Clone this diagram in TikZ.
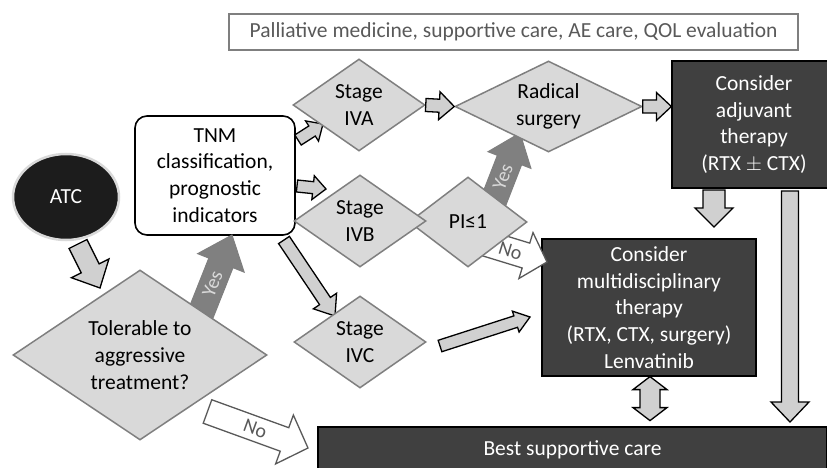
\documentclass[tikz,border=0pt]{standalone}
\usepackage{fontspec}
\setmainfont{Carlito}
\usetikzlibrary{shapes.geometric,calc}

\definecolor{diafill}{HTML}{D9D9D9}
\definecolor{diaedge}{HTML}{7F7F7F}
\definecolor{boxgrey}{HTML}{404040}
\definecolor{atcblack}{HTML}{1C1C1C}
\definecolor{arrowfill}{HTML}{D0D0D0}
\definecolor{yesfill}{HTML}{808080}
\definecolor{greytext}{HTML}{595959}

\tikzset{
  txt/.style = {font = \fontsize{21.5}{26.7}\selectfont, align = center},
  decision/.style = {txt, diamond, draw = diaedge, fill = diafill,
    line width = 1.5pt, inner sep = 0pt},
  darkbox/.style = {txt, rectangle, draw = black, fill = boxgrey,
    text = white, line width = 1.2pt},
  light/.style = {draw = black, fill = arrowfill, line width = 1.3pt,
    line join = miter},
  yes/.style = {draw = diaedge, fill = yesfill, line width = 1pt,
    text = diafill},
  no/.style = {draw = greytext, fill = white, line width = 1.3pt,
    text = greytext},
  arrowtxt/.style = {font = \fontsize{20}{20}\selectfont, transform shape,
    inner sep = 0pt}
}

% block arrow: [style]{tail}{tip}{half shaft}{half head}{head length}{label}
\newcommand{\blockarrow}[7][light]{%
  \draw[#1] let \p1 = (#2), \p2 = (#3),
    \n1 = {atan2(\y2 - \y1, \x2 - \x1)},
    \n2 = {veclen(\x2 - \x1, \y2 - \y1)} in
    [shift = {(\p1)}, rotate = \n1]
    (0, -#4) -- (\n2 - #6, -#4) -- (\n2 - #6, -#5) -- (\n2, 0) --
    (\n2 - #6, #5) -- (\n2 - #6, #4) -- (0, #4) -- cycle
    ({(\n2 - #6) * 0.62}, 0) node[arrowtxt] {#7};}

\begin{document}
\begin{tikzpicture}[x = 1pt, y = -1pt]
  \useasboundingbox (0, 0) rectangle (827, 468);

  \node[txt, draw = diaedge, line width = 1.8pt, text = greytext,
  minimum width = 569, minimum height = 36] (palliative) at (513.5, 32)
  {Palliative medicine, supportive care, AE care, QOL evaluation};

  \node[txt, ellipse, draw = black!15, line width = 2.5pt, fill = atcblack,
  text = white, minimum width = 106, minimum height = 86] (atc) at (66, 197)
  {ATC};

  \node[txt, draw, line width = 1.6pt, rounded corners = 12pt, fill = white,
  minimum width = 160, minimum height = 119] (tnm) at (215, 175.5)
  {TNM\\classification,\\prognostic\\indicators};

  \node[darkbox, minimum width = 164, minimum height = 127] (adjuvant)
  at (754, 124.5) {Consider\\adjuvant\\therapy\\(RTX $\pm$ CTX)};
  \node[darkbox, minimum width = 214, minimum height = 137] (multi)
  at (649, 307.5)
  {Consider\\multidisciplinary\\therapy\\(RTX, CTX, surgery)\\Lenvatinib};
  \node[darkbox, minimum width = 509, minimum height = 46] (best)
  at (572.5, 450) {Best supportive care};

  % arrow ends
  \coordinate (atc-out) at (78, 244);
  \coordinate (tol-in) at (100, 288);
  \coordinate (tol-yes) at (199, 318);
  \coordinate (tnm-in) at (232, 235);
  \coordinate (tol-no) at (207.5, 411.5);
  \coordinate (best-in) at (308, 448);
  \coordinate (tnm-a) at (298, 140);
  \coordinate (a-in) at (323, 124);
  \coordinate (tnm-b) at (297, 186);
  \coordinate (b-in) at (326, 189);
  \coordinate (tnm-c) at (284, 240);
  \coordinate (c-in) at (335, 316);
  \coordinate (pi-yes) at (492, 205);
  \coordinate (rad-in) at (520, 133);
  \coordinate (pi-no) at (485, 243);
  \coordinate (multi-no) at (547, 262);
  \coordinate (c-out) at (440, 346);
  \coordinate (multi-in) at (530, 317);
  \coordinate (adj-out) at (714, 190);
  \coordinate (adj-down) at (714, 227);
  \coordinate (side-out) at (790, 191);
  \coordinate (side-in) at (790, 422);

  \blockarrow{atc-out}{tol-in}{10}{21}{22}{}
  \blockarrow[yes]{tol-yes}{tnm-in}{13}{25}{30}{Yes}
  \blockarrow[no]{tol-no}{best-in}{12.5}{26}{25}{No}
  \blockarrow{tnm-a}{a-in}{6}{12}{13}{}
  \blockarrow{tnm-b}{b-in}{6}{12}{13}{}
  \blockarrow{tnm-c}{c-in}{6.5}{14}{18}{}
  \blockarrow{c-out}{multi-in}{6}{11}{15}{}
  \blockarrow[yes]{pi-yes}{rad-in}{13}{23}{29}{Yes}
  \blockarrow[no]{pi-no}{multi-no}{13}{24}{22}{No}
  \blockarrow{adj-out}{adj-down}{11}{19}{19}{}
  \blockarrow{side-out}{side-in}{8.5}{19}{20}{}

  \draw[light] (multi.south -| 650, 378) -- ++(17, 13) -- ++(-7, 0) -- ++(0, 18)
  -- ++(7, 0) -- ++(-17, 13) -- ++(-17, -13) -- ++(7, 0) -- ++(0, -18)
  -- ++(-7, 0) -- cycle;

  \node[decision, shape aspect = 1.5, minimum width = 254,
  minimum height = 170] (tolerable) at (140, 355)
  {Tolerable to\\aggressive\\treatment?};
  \node[decision, shape aspect = 1.3, minimum width = 118,
  minimum height = 90] (pi) at (468, 222) {PI≤1};
  \node[decision, shape aspect = 1.43, minimum width = 132,
  minimum height = 92] (stageA) at (359, 105) {Stage\\IVA};
  \node[decision, shape aspect = 1.43, minimum width = 132,
  minimum height = 92] (stageB) at (360, 221) {Stage\\IVB};
  \node[decision, shape aspect = 1.43, minimum width = 132,
  minimum height = 92] (stageC) at (360, 342) {Stage\\IVC};
  \node[decision, shape aspect = 2.05, minimum width = 187,
  minimum height = 91] (radical) at (548.5, 106.5) {Radical\\surgery};

  \blockarrow{stageA.east}{radical.west}{6.5}{14}{15}{}
  \blockarrow{radical.east}{adjuvant.west |- radical.east}{6.5}{14}{15}{}
\end{tikzpicture}
\end{document}
